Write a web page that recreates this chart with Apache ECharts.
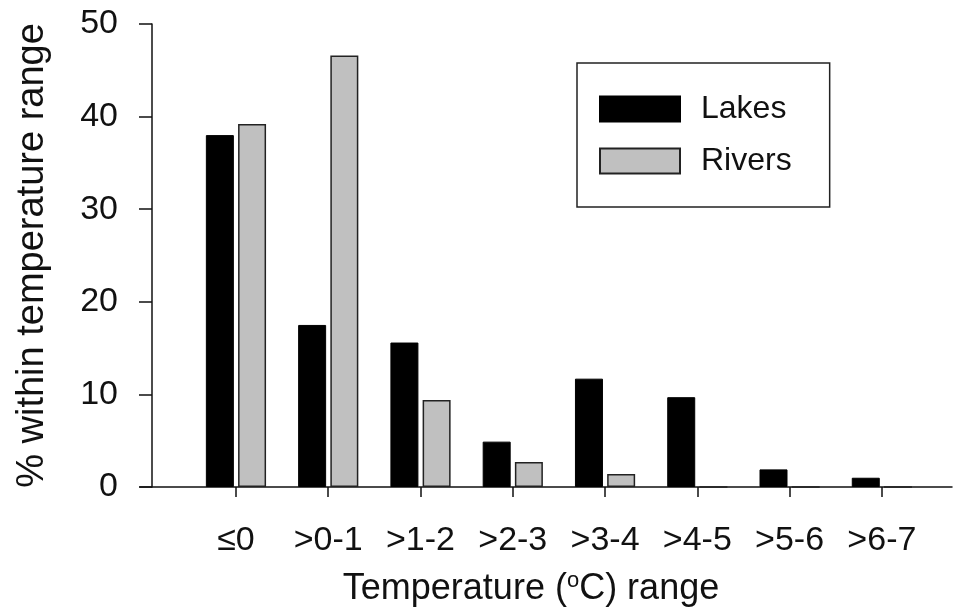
<!DOCTYPE html>
<html>
<head>
<meta charset="utf-8">
<script src="https://cdn.jsdelivr.net/npm/echarts@6/dist/echarts.min.js"></script>
<style>
  html, body { margin: 0; padding: 0; background: #fff; }
  #chart { width: 956px; height: 615px; }
</style>
</head>
<body>
<div id="chart"></div>
<script>
const categories = ['≤0', '>0-1', '>1-2', '>2-3', '>3-4', '>4-5', '>5-6', '>6-7']
const lakes = [38.0, 17.5, 15.6, 4.9, 11.7, 9.7, 1.9, 1.0]
const rivers = [39.2, 46.6, 9.4, 2.7, 1.4, 0, 0, 0]
const yTicks = [0, 10, 20, 30, 40, 50]

const font = "'Liberation Sans', Arial, sans-serif"
const positions = categories.map((c, i) => i)

const chart = echarts.init(document.getElementById('chart'))
chart.setOption({
  animation: false,
  backgroundColor: '#fff',
  textStyle: { fontFamily: font, color: '#111' },
  grid: { left: 140, right: 4, top: 24, bottom: 128 },
  legend: {
    left: 577,
    top: 63,
    orient: 'vertical',
    icon: 'rect',
    itemWidth: 80,
    itemHeight: 25,
    itemGap: 20,
    padding: [30, 38, 30, 22],
    borderColor: '#222',
    borderWidth: 1.5,
    textStyle: { fontSize: 32, color: '#111', fontFamily: font, padding: [0, 0, 0, 16] },
    data: ['Lakes', 'Rivers']
  },
  xAxis: {
    type: 'value',
    min: -1.04,
    max: 7.76,
    splitLine: { show: false },
    axisLine: { onZero: false, lineStyle: { color: '#111', width: 1.5 } },
    axisTick: { length: 10, customValues: positions, lineStyle: { color: '#111', width: 1.5 } },
    axisLabel: {
      customValues: positions,
      margin: 37,
      fontSize: 34,
      color: '#111',
      formatter: v => categories[Math.round(v)]
    },
    name: 'Temperature ({sup|o}C) range',
    nameLocation: 'middle',
    nameGap: 83,
    nameTextStyle: {
      fontSize: 36,
      color: '#111',
      padding: [0, 30, 0, 0],
      rich: { sup: { fontSize: 22, padding: [0, 0, 16, 0], color: '#111' } }
    }
  },
  yAxis: {
    type: 'value',
    min: yTicks[0],
    max: yTicks[yTicks.length - 1],
    interval: 10,
    offset: -12,
    splitLine: { show: false },
    axisLine: { show: true, onZero: false, lineStyle: { color: '#111', width: 1.5 } },
    axisTick: { show: true, length: 13, lineStyle: { color: '#111', width: 1.5 } },
    axisLabel: { margin: 34, fontSize: 34, color: '#111' },
    name: '% within temperature range',
    nameLocation: 'middle',
    nameGap: 100,
    nameTextStyle: { fontSize: 38, color: '#111' }
  },
  series: [{
    name: 'Lakes',
    type: 'bar',
    barWidth: 28,
    barGap: '15%',
    itemStyle: { color: '#000', borderColor: '#000', borderWidth: 1 },
    data: lakes.map((v, i) => [positions[i], v])
  }, {
    name: 'Rivers',
    type: 'bar',
    barWidth: 28,
    barGap: '15%',
    itemStyle: { color: '#c0c0c0', borderColor: '#222', borderWidth: 1.5 },
    data: rivers.map((v, i) => [positions[i], v])
  }]
})
</script>
</body>
</html>
